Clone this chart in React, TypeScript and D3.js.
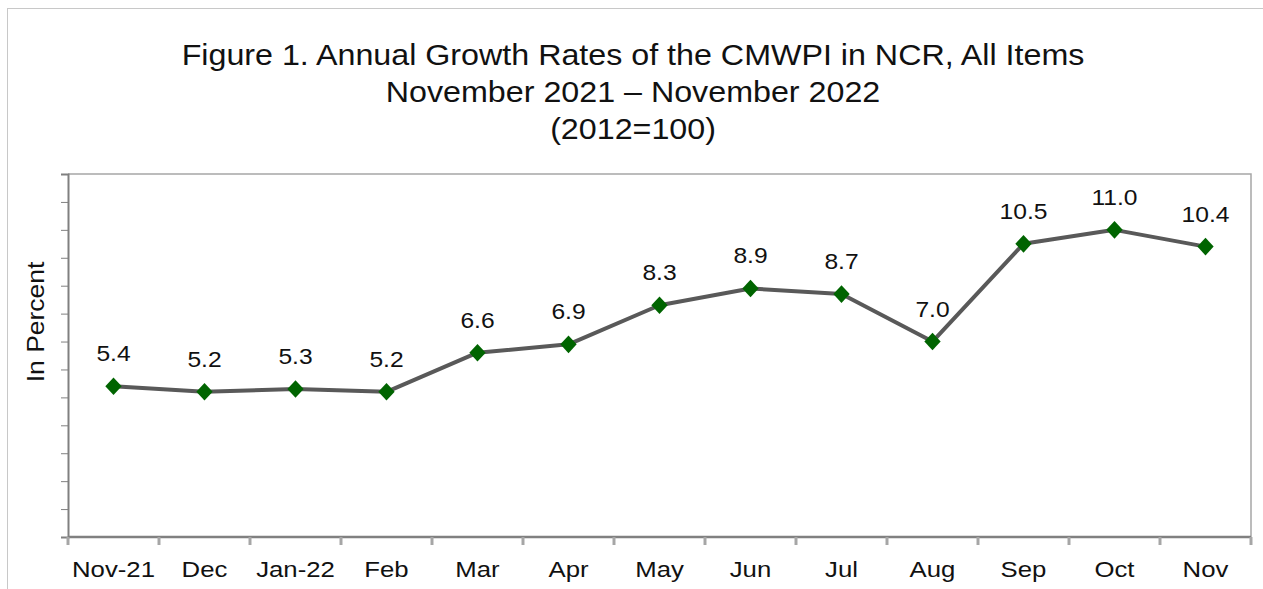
import React from "react"
import * as d3 from "d3"

const months = ["Nov-21", "Dec", "Jan-22", "Feb", "Mar", "Apr", "May", "Jun", "Jul", "Aug", "Sep", "Oct", "Nov"]
const rates = [5.4, 5.2, 5.3, 5.2, 6.6, 6.9, 8.3, 8.9, 8.7, 7.0, 10.5, 11.0, 10.4]
const yTicks = d3.range(0, 14)
const titleLines = [
  "Figure 1. Annual Growth Rates of the CMWPI in NCR, All Items",
  "November 2021 \u2013 November 2022",
  "(2012=100)",
]

export default function App() {
  const ref = React.useRef<SVGSVGElement>(null)

  React.useEffect(() => {
    const width = 1263
    const height = 589
    const margin = { top: 174, right: 12, bottom: 52, left: 68 }
    const font = "'Liberation Sans', Arial, sans-serif"
    const stretch = 1.12

    const svg = d3.select(ref.current)
    svg.selectAll("*").remove()
    svg.attr("width", width).attr("height", height)

    // outer frame
    svg.append("rect")
      .attr("x", 7.5).attr("y", 8.5)
      .attr("width", width - 7).attr("height", height)
      .attr("fill", "white").attr("stroke", "#c8c8c8")

    const x = d3.scaleBand()
      .domain(months)
      .range([margin.left, width - margin.right])

    const y = d3.scaleLinear()
      .domain([0, 13])
      .range([height - margin.bottom, margin.top])

    // title
    svg.append("g").selectAll("text")
      .data(titleLines)
      .enter().append("text")
      .attr("transform", (d, i) => `translate(633,${65 + i * 37}) scale(1.075,1)`)
      .attr("text-anchor", "middle")
      .attr("font-family", font)
      .attr("font-size", 30)
      .attr("fill", "#111")
      .text(d => d)

    // plot border (top, right)
    svg.append("path")
      .attr("d", `M${margin.left},${margin.top}H${width - margin.right}V${height - margin.bottom}`)
      .attr("fill", "none").attr("stroke", "#a6a6a6").attr("stroke-width", 1.5)

    // y axis
    const yAxis = svg.append("g")
      .attr("transform", `translate(${margin.left},0)`)
      .call(d3.axisLeft(y).tickValues(yTicks).tickSize(7).tickFormat(() => ""))
    yAxis.select(".domain").attr("stroke", "#808080").attr("stroke-width", 2)
    yAxis.selectAll(".tick line").attr("stroke", "#808080").attr("stroke-width", 1)

    // x axis: ticks on category boundaries
    const bounds = months.map(m => x(m)!).concat([x(months[months.length - 1])! + x.bandwidth()])
    const xAxisG = svg.append("g")
    xAxisG.append("line")
      .attr("x1", margin.left).attr("x2", width - margin.right)
      .attr("y1", y(0)).attr("y2", y(0))
      .attr("stroke", "#808080").attr("stroke-width", 2.5)
    xAxisG.selectAll(".xt")
      .data(bounds)
      .enter().append("line")
      .attr("x1", d => d).attr("x2", d => d)
      .attr("y1", y(0)).attr("y2", y(0) + 8)
      .attr("stroke", "#a6a6a6").attr("stroke-width", 3)
    xAxisG.selectAll(".xl")
      .data(months)
      .enter().append("text")
      .attr("transform", d => `translate(${x(d)! + x.bandwidth() / 2},577) scale(${stretch},1)`)
      .attr("text-anchor", "middle")
      .attr("font-family", font)
      .attr("font-size", 23)
      .attr("fill", "#111")
      .text(d => d)

    // y label
    svg.append("text")
      .attr("transform", `translate(44,322) rotate(-90) scale(1.15,1)`)
      .attr("text-anchor", "middle")
      .attr("font-family", font)
      .attr("font-size", 23)
      .attr("fill", "#111")
      .text("In Percent")

    const cx = (i: number) => x(months[i])! + x.bandwidth() / 2

    const line = d3.line<number>()
      .x((d, i) => cx(i))
      .y(d => y(d))

    svg.append("path")
      .datum(rates)
      .attr("fill", "none")
      .attr("stroke", "#595959")
      .attr("stroke-width", 4)
      .attr("stroke-linejoin", "round")
      .attr("d", line)

    const sym = d3.symbol().type(d3.symbolDiamond2).size(170)
    svg.append("g").selectAll("path")
      .data(rates)
      .enter().append("path")
      .attr("transform", (d, i) => `translate(${cx(i)},${y(d)}) scale(1,1.08)`)
      .attr("d", sym)
      .attr("fill", "#006400")

    svg.append("g").selectAll("text")
      .data(rates)
      .enter().append("text")
      .attr("transform", (d, i) => `translate(${cx(i)},${y(d) - 25}) scale(${stretch},1)`)
      .attr("text-anchor", "middle")
      .attr("font-family", font)
      .attr("font-size", 22)
      .attr("fill", "#111")
      .text(d => d.toFixed(1))
  }, [])

  return <svg ref={ref} style={{ position: "absolute", left: 0, top: 0 }} />
}
